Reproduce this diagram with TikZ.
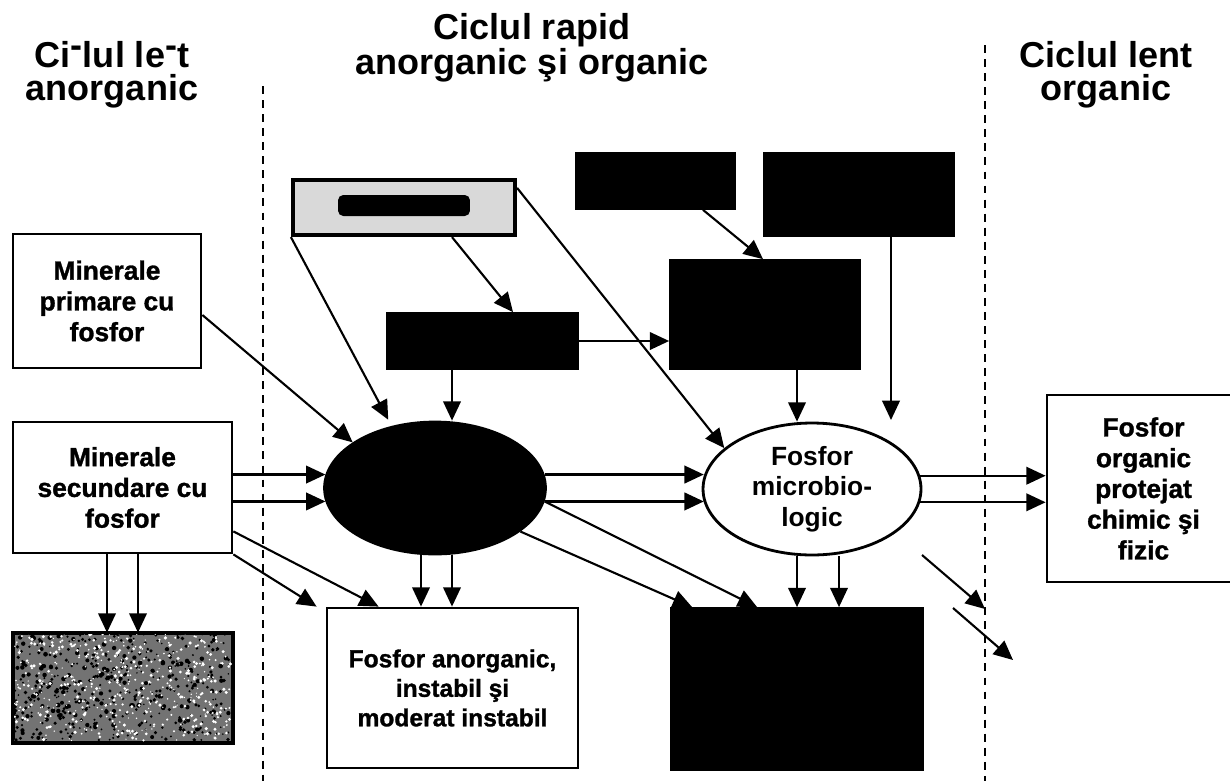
\documentclass[tikz,border=0pt]{standalone}
\usepackage{fontspec}
\setmainfont{Liberation Sans}
\newfontfamily\grosfont{Liberation Sans Bold}[FakeBold=1.2]
\usetikzlibrary{arrows.meta,calc,shapes.geometric}

\begin{document}
\begin{tikzpicture}[x=0.02cm,y=-0.02cm,
    titlu/.style={align=center,font=\bfseries\fontsize{20.5}{19}\selectfont,inner sep=0pt},
    alb/.style={draw,line width=1.6pt,fill=white,align=center,inner sep=0pt,
        font=\grosfont\fontsize{15}{17.5}\selectfont},
    negru/.style={draw,fill=black,line width=1pt,inner sep=0pt},
    arr/.style={-{Triangle[length=11pt,width=10pt]},line width=1.2pt},
    granita/.style={line width=1pt,dash pattern=on 4.5pt off 3.5pt}]
    \useasboundingbox (0,0) rectangle (1230,781);

    \node[titlu] (tst) at (112,75) {Ci\raisebox{.55ex}{-}lul le\raisebox{.55ex}{-}t\\anorganic};
    \node[titlu] (tmij) at (532,48) {Ciclul rapid\\anorganic şi organic};
    \node[titlu] (tdr) at (1106,75) {Ciclul lent\\organic};
    \draw[granita] (263,86)--(263,781);
    \draw[granita] (985,45)--(985,781);

    % stanga
    \node[alb,minimum width=3.76cm,minimum height=2.68cm] (mprim) at (107,301) {Minerale\\primare cu\\fosfor};
    \node[alb,minimum width=4.38cm,minimum height=2.62cm] (msec) at (122.5,487.5) {Minerale\\secundare cu\\fosfor};
    \node[draw,line width=1.6pt,fill=black!55,minimum width=4.36cm,minimum height=2.16cm] (ocl) at (123,688) {};
    \begin{scope}
        \clip (ocl.south west) rectangle (ocl.north east);
        \pgfmathsetseed{11}
        \foreach \i in {1,...,500}
            \fill[black] ($(ocl.north west)+(rnd*218,rnd*108)$) circle ({0.8+rnd*1.6});
        \foreach \i in {1,...,500}
            \fill[white] ($(ocl.north west)+(rnd*218,rnd*108)$) circle ({0.6+rnd*1.2});
    \end{scope}
    \draw[line width=1.6pt] (ocl.south west) rectangle (ocl.north east);

    % sus
    \node[draw,line width=2.4pt,fill=black!15,minimum width=4.44cm,minimum height=1.1cm] (gri) at (404,207.5) {};
    \node[fill=black,rounded corners=3pt,minimum width=2.64cm,minimum height=0.42cm] (griIn) at (404,205.5) {};
    \node[negru,minimum width=3.82cm,minimum height=1.12cm] (bmic) at (482.5,341) {};
    \node[negru,minimum width=3.18cm,minimum height=1.12cm] (bsus1) at (655.5,181) {};
    \node[negru,minimum width=3.8cm,minimum height=1.66cm] (bsus2) at (859,194.5) {};
    \node[negru,minimum width=3.8cm,minimum height=2.18cm] (bmij) at (765,314.5) {};

    % elipse
    \node[ellipse,draw,fill=black,line width=1pt,minimum width=4.44cm,minimum height=2.66cm] (elN) at (435,488) {};
    \node[ellipse,alb,font=\bfseries\fontsize{15}{17.5}\selectfont,minimum width=4.36cm,minimum height=2.64cm] (elM) at (812,489) {Fosfor\\microbio-\\logic};

    % jos
    \node[alb,font=\grosfont\fontsize{14}{16.8}\selectfont,minimum width=5.02cm,minimum height=3.2cm] (anorg) at (452.5,688) {Fosfor anorganic,\\instabil şi\\moderat instabil};
    \node[negru,minimum width=5.04cm,minimum height=3.24cm] (bjos) at (797,689) {};
    \node[alb,minimum width=3.86cm,minimum height=3.74cm] (org) at (1143.5,488.5) {Fosfor\\organic\\protejat\\chimic şi\\fizic};

    \coordinate (liber) at (891,420);
    \coordinate (d1a) at (922,555);
    \coordinate (d1b) at (985,609);
    \coordinate (d2a) at (953,608);
    \coordinate (d2b) at (1013,660);

    \draw[arr] ($(mprim.east)+(0,14)$) -- (elN.151);
    \draw[arr] (msec.east |- elN.173) -- (elN.173);
    \draw[arr] (msec.east |- elN.187) -- (elN.187);
    \draw[arr] (msec.south east) -- ($(anorg.north west)+(-9,0)$);
    \draw[arr] ($(msec.south east)+(0,-23)$) -- ($(anorg.north west)+(53,0)$);
    \foreach \dx in {-15.5,15.5}
        \draw[arr] ($(msec.south)+(\dx,0)$) -- ($(msec.south |- ocl.north)+(\dx,0)$);

    \draw[arr,shorten >=4pt] (gri.south west) -- (elN.125);
    \draw[arr] ($(gri.south)+(48,0)$) -- ($(bmic.north)+(30.5,0)$);
    \draw[arr] ($(gri.north east)+(0,10)$) -- (elM.155);
    \draw[arr] (bmic.east) -- (bmic.east -| bmij.west);
    \draw[arr] ($(bmic.south)+(-30.5,0)$) -- ($(elN.north)+(17,0)$);
    \draw[arr] ($(bsus1.south)+(47.5,0)$) -- ($(bmij.north)+(-2,0)$);
    \draw[arr] ($(bmij.south)+(32,0)$) -- ($(elM.north)+(-15,0)$);
    \draw[arr] ($(bsus2.south)+(32,0)$) -- (liber);

    \foreach \a/\b in {7/173,353/187}
        \draw[arr] (elN.\a) -- (elN.\a -| elM.\b);
    \draw[arr] (elN.353) -- ($(bjos.north west)+(87,0)$);
    \draw[arr] (elN.333) -- ($(bjos.north west)+(22,0)$);
    \foreach \dx in {-14,17}
        \draw[arr] ($(elN.south)+(\dx,0)$) -- ($(elN.south |- anorg.north)+(\dx,0)$);
    \foreach \dx in {-15,27}
        \draw[arr] ($(elM.south)+(\dx,0)$) -- ($(elM.south |- bjos.north)+(\dx,0)$);

    \foreach \a in {7,353}
        \draw[arr] (elM.\a) -- (elM.\a -| org.west);
    \draw[arr] (d1a) -- (d1b);
    \draw[arr] (d2a) -- (d2b);
\end{tikzpicture}
\end{document}
